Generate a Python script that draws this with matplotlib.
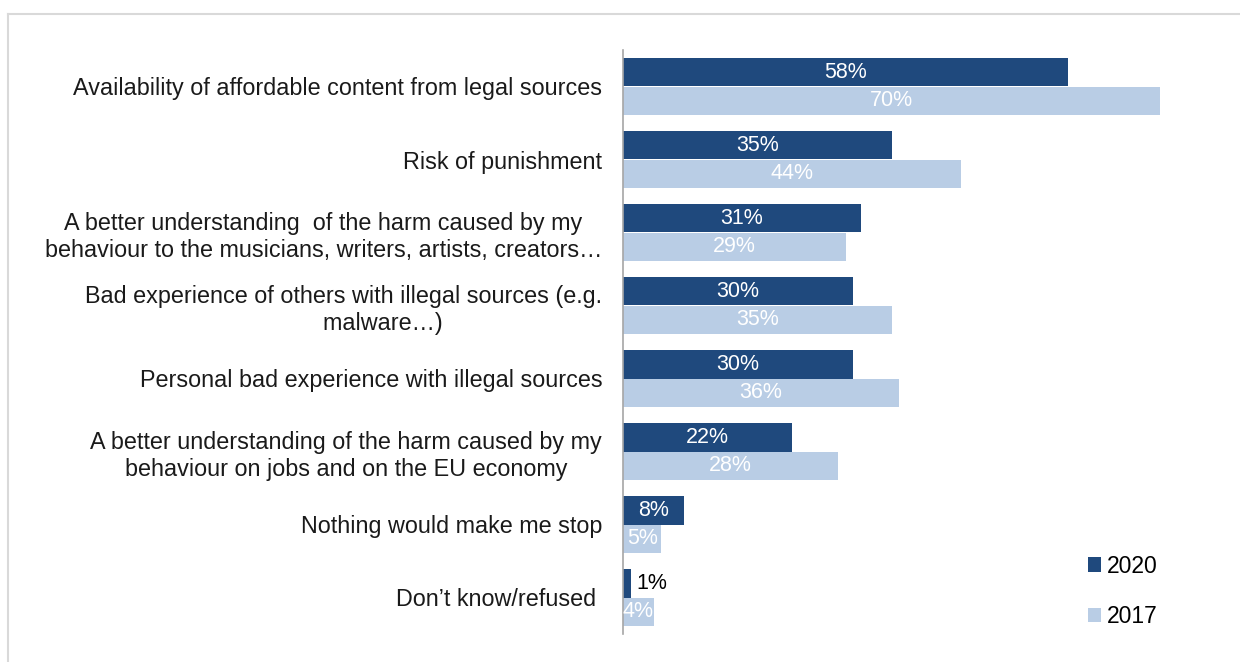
import matplotlib
matplotlib.use("Agg")
import matplotlib.pyplot as plt
import numpy as np

plt.rcParams['font.family'] = ['Liberation Sans', 'DejaVu Sans']

categories = [
    "Availability of affordable content from legal sources",
    "Risk of punishment",
    "A better understanding  of the harm caused by my\nbehaviour to the musicians, writers, artists, creators…",
    "Bad experience of others with illegal sources (e.g.\n            malware…)",
    "Personal bad experience with illegal sources",
    "A better understanding of the harm caused by my\nbehaviour on jobs and on the EU economy",
    "Nothing would make me stop",
    "Don’t know/refused ",
]
values_2020 = [58, 35, 31, 30, 30, 22, 8, 1]
values_2017 = [70, 44, 29, 35, 36, 28, 5, 4]
series_names = ["2020", "2017"]
colors = ["#1F497D", "#B9CDE5"]

W, H = 1240, 662
fig = plt.figure(figsize=(W / 100, H / 100), dpi=100)
ax = fig.add_axes([623 / W, (H - 634) / H, (1237 - 623) / W, (634 - 50) / H])

n = len(categories)
y = np.arange(n)
bh = 0.385
b1 = ax.barh(y - bh / 2, values_2020, height=bh, color=colors[0], label=series_names[0])
b2 = ax.barh(y + bh / 2, values_2017, height=bh, color=colors[1], label=series_names[1])

ax.set_xlim(0, 80)
ax.set_ylim(n - 0.5, -0.5)
ax.set_yticks(y)
ax.set_yticklabels(categories, fontsize=16.8, multialignment='center', color='#1a1a1a',
                   linespacing=1.2)
ax.tick_params(axis='y', length=0, pad=15)
ax.set_xticks([])
for s in ['top', 'right', 'bottom']:
    ax.spines[s].set_visible(False)
ax.spines['left'].set_color('#A6A6A6')
ax.spines['left'].set_linewidth(1.2)

for bars, vals in ((b1, values_2020), (b2, values_2017)):
    for rect, v in zip(bars, vals):
        cy = rect.get_y() + rect.get_height() / 2
        if v <= 2:
            ax.text(rect.get_width() + 0.8, cy, f"{v}%", ha='left', va='center',
                    fontsize=15.5, color='black')
        else:
            ax.text(rect.get_width() / 2, cy, f"{v}%", ha='center', va='center',
                    fontsize=15.5, color='white')

leg = fig.legend(handles=[b1, b2], labels=series_names, loc='upper left',
                 bbox_to_anchor=(1067 / W, 1 - 534 / H), frameon=False,
                 fontsize=16.5, handlelength=0.6, handleheight=0.6,
                 handletextpad=0.25, labelspacing=1.2)

# outer border
fig.add_artist(plt.Line2D([8 / W, 1], [1 - 14 / H, 1 - 14 / H], color='#D9D9D9', lw=1.5,
                          transform=fig.transFigure))
fig.add_artist(plt.Line2D([8 / W, 8 / W], [0, 1 - 14 / H], color='#D9D9D9', lw=1.5,
                          transform=fig.transFigure))

fig.savefig("out.png", dpi=100)
